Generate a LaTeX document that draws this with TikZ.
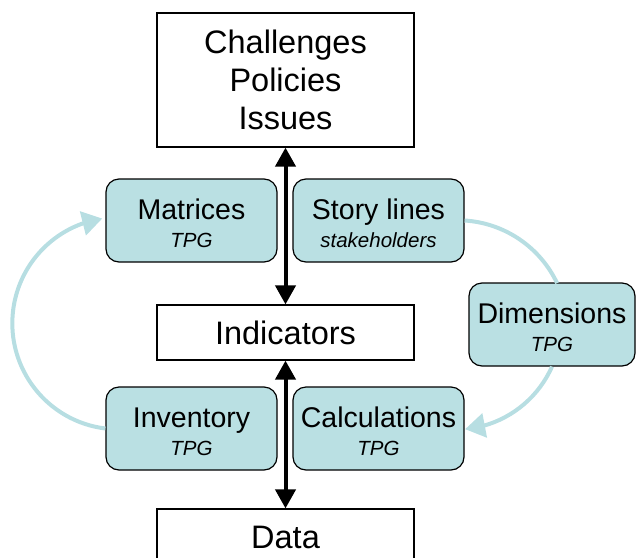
\documentclass[tikz,border=0pt]{standalone}
\usepackage{fontspec}
\setmainfont{Liberation Sans}
\usetikzlibrary{arrows.meta,bending}
\definecolor{boxteal}{RGB}{186,224,227}
\definecolor{cycleteal}{RGB}{183,222,226}
\newcommand\tpgfont{\fontsize{20.5}{28}\selectfont\itshape}
% two-line text of a stage box: name, then a smaller italic note
\newcommand\stagetext[2]{\rule{0pt}{26pt}#1\\{\tpgfont #2}}
\begin{document}
\begin{tikzpicture}[x=1pt,y=-1pt,
  whitebox/.style={draw=black,line width=1.2pt,fill=white,inner sep=0pt,
    minimum width=257pt,font=\fontsize{32.5}{38.3}\selectfont,align=center},
  tealbox/.style={draw=black,line width=1.2pt,fill=boxteal,rounded corners=13pt,
    inner sep=0pt,minimum width=171pt,minimum height=83pt,
    font=\fontsize{28.5}{28}\selectfont,align=center},
  mainlink/.style={line width=4pt,
    {Triangle[length=19pt,width=20pt]}-{Triangle[length=19pt,width=20pt]}},
  cycleline/.style={draw=cycleteal,line width=4pt},
  cyclearrow/.style={cycleline,-{Triangle[length=20pt,width=24pt]}}
]
\useasboundingbox (0,0) rectangle (636,557);

% boxes
\node[whitebox,minimum height=134pt] (top) at (285.5,80) {Challenges\\Policies\\Issues};
\node[tealbox] (mat) at (191.5,220.5) {\stagetext{Matrices}{TPG}};
\node[tealbox] (sto) at (378.5,220.5) {\stagetext{Story lines}{stakeholders}};
\node[whitebox,minimum height=55pt] (ind) at (285.5,332.5) {Indicators};
\node[tealbox,minimum width=166pt] (dim) at (552,324.5) {\stagetext{Dimensions}{TPG}};
\node[tealbox] (inv) at (191.5,428.5) {\stagetext{Inventory}{TPG}};
\node[tealbox] (calc) at (378.5,428.5) {\stagetext{Calculations}{TPG}};
\node[whitebox,minimum height=56pt] (data) at (285.5,537) {Data};

% vertical two-way links
\draw[mainlink] (top.south) -- (ind.north);
\draw[mainlink] (ind.south) -- (data.north);

% cycle around the indicators
\draw[cyclearrow] (inv.west) arc[start angle=97,end angle=261.3,radius=106];
\draw[cycleline] (sto.east) arc[start angle=-86.4,end angle=-25.4,radius=110];
\draw[cyclearrow] (dim.south) arc[start angle=23.9,end angle=84.6,radius=106];
\end{tikzpicture}
\end{document}
